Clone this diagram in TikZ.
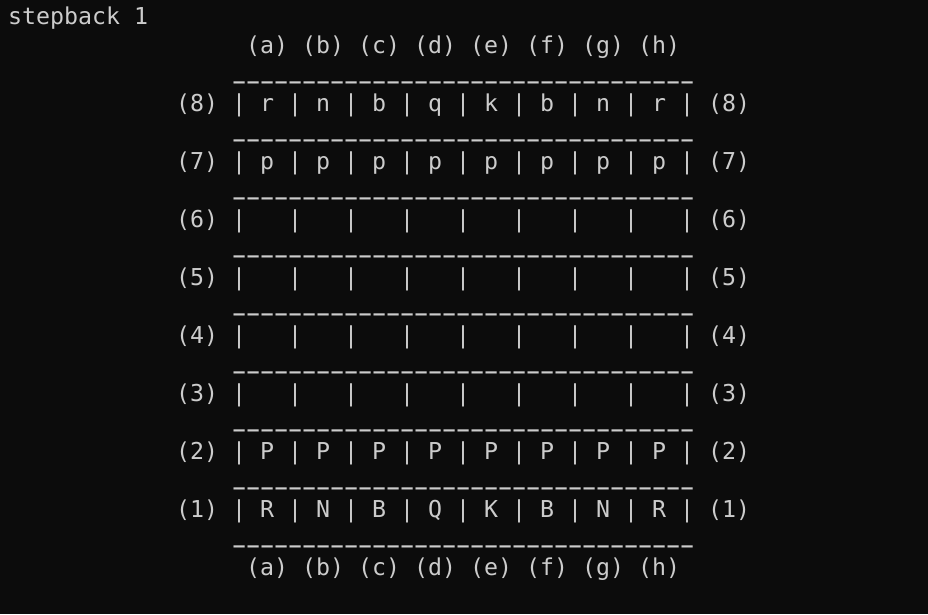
\documentclass[tikz,border=0pt]{standalone}
\usepackage{fontspec}
\newfontfamily\termfont{DejaVu Sans Mono}
\definecolor{termbg}{HTML}{0C0C0C}
\definecolor{termfg}{HTML}{CCCCCC}
\newcommand\boardrule{\foreach \i in {1,...,33}{\makebox[14pt]{\scalebox{0.8}[1]{\_}}}}

\begin{document}
\begin{tikzpicture}[x=1pt,y=-1pt]
        \tikzset{term/.style = {anchor=base west,inner sep=0pt,text=termfg,font=\termfont\fontsize{23.25pt}{28pt}\selectfont}}
        \tikzset{rule/.style = {term,yshift=4pt,font=\termfont\bfseries\fontsize{23.25pt}{28pt}\selectfont}}
        % screen
        \fill[termbg] (0,0) rectangle (928,614);
        % command and file labels
        \node[term] (title)   at (8,24)   {stepback 1};
        \node[term] (filetop) at (246,53) {(a) (b) (c) (d) (e) (f) (g) (h)};
        % board
        \node[rule] (rule8) at (232,82)  {\boardrule};
        \node[term] (rank8) at (176,111) {(8) | r | n | b | q | k | b | n | r | (8)};
        \node[rule] (rule7) at (232,140) {\boardrule};
        \node[term] (rank7) at (176,169) {(7) | p | p | p | p | p | p | p | p | (7)};
        \node[rule] (rule6) at (232,198) {\boardrule};
        \node[term] (rank6) at (176,227) {(6) |~~~|~~~|~~~|~~~|~~~|~~~|~~~|~~~| (6)};
        \node[rule] (rule5) at (232,256) {\boardrule};
        \node[term] (rank5) at (176,285) {(5) |~~~|~~~|~~~|~~~|~~~|~~~|~~~|~~~| (5)};
        \node[rule] (rule4) at (232,314) {\boardrule};
        \node[term] (rank4) at (176,343) {(4) |~~~|~~~|~~~|~~~|~~~|~~~|~~~|~~~| (4)};
        \node[rule] (rule3) at (232,372) {\boardrule};
        \node[term] (rank3) at (176,401) {(3) |~~~|~~~|~~~|~~~|~~~|~~~|~~~|~~~| (3)};
        \node[rule] (rule2) at (232,430) {\boardrule};
        \node[term] (rank2) at (176,459) {(2) | P | P | P | P | P | P | P | P | (2)};
        \node[rule] (rule1) at (232,488) {\boardrule};
        \node[term] (rank1) at (176,517) {(1) | R | N | B | Q | K | B | N | R | (1)};
        \node[rule] (rule0) at (232,546) {\boardrule};
        \node[term] (filebottom) at (246,575) {(a) (b) (c) (d) (e) (f) (g) (h)};
\end{tikzpicture}
\end{document}
